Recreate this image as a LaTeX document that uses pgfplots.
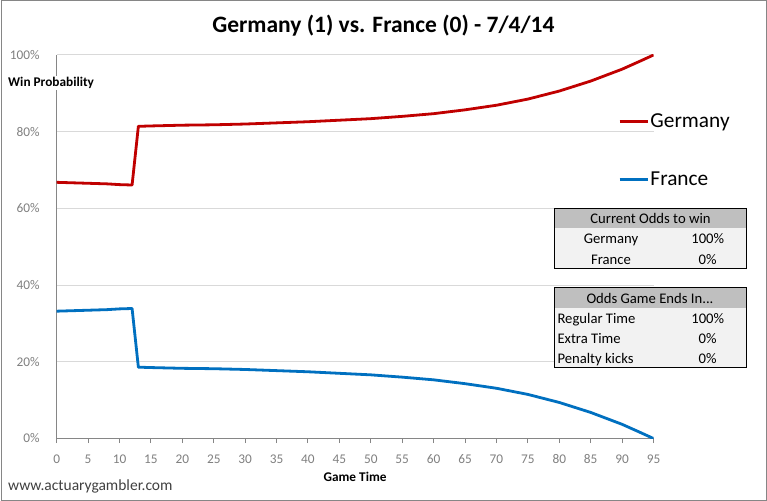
\documentclass[border=0pt]{standalone}
\usepackage{pgfplots}
\pgfplotsset{compat=1.18}
\usepackage{fontspec}
\setmainfont{Carlito}
\definecolor{gerred}{HTML}{C00000}
\definecolor{frablue}{HTML}{0070C0}
\definecolor{axgray}{HTML}{868686}
\definecolor{gridgray}{HTML}{D9D9D9}
\definecolor{ticktext}{HTML}{808080}
\definecolor{hdrgray}{HTML}{BFBFBF}
\definecolor{bodygray}{HTML}{F2F2F2}
\definecolor{urlgray}{HTML}{404040}
\newcommand{\tabfont}{\fontsize{14.67bp}{17bp}\selectfont}
\newcommand{\smallfont}{\fontsize{13.3bp}{16bp}\selectfont}
\begin{document}
\begin{tikzpicture}[x=1bp,y=1bp]
\useasboundingbox (0,0) rectangle (767,-501);
\fill[white] (0,0) rectangle (767,-501);
\draw[axgray,line width=1bp] (1,-1) rectangle (766,-500);
\begin{axis}[
  at={(56.7bp,-438.5bp)}, anchor=south west,
  scale only axis, width=596.8bp, height=383.5bp,
  xmin=0, xmax=95, ymin=0, ymax=100,
  axis x line*=bottom, axis y line*=left,
  axis line style={axgray, line width=1bp, -},
  xtick={0,5,...,95}, ytick={0,20,...,100},
  tick align=outside,
  xtick style={axgray, line width=1bp},
  major tick length=4.5bp,
  ytick style={draw=none},
  ymajorgrids, grid style={gridgray, line width=1bp},
  yticklabel={\pgfmathprintnumber{\tick}\%},
  ticklabel style={font=\smallfont, text=ticktext},
  /pgf/number format/assume math mode=true,
  yticklabel style={xshift=-9bp},
  xticklabel style={yshift=-8bp},
  xlabel={Game Time},
  xlabel style={font=\bfseries\smallfont, at={(axis description cs:0.5,-0.099)}, anchor=center},
  legend style={at={(axis description cs:0.9405,0.851)}, anchor=north west,
    draw=none, fill=none, inner sep=0pt, row sep=40bp,
    font=\fontsize{21.3bp}{24bp}\selectfont,
    cells={anchor=west}, nodes={inner sep=1.5bp}},
  legend image code/.code={\draw[#1] (0bp,0bp) -- (28bp,0bp);},
  every axis plot/.append style={line width=2.8bp, line join=round},
]
\addplot[gerred] coordinates {
(0,66.8) (2,66.7) (4,66.6) (6,66.5) (8,66.4) (10,66.2) (12,66.1)
(13,81.4) (15,81.5) (20,81.7) (25,81.8) (30,82.0) (35,82.3) (40,82.6)
(45,83.0) (50,83.4) (55,84.0) (60,84.7) (65,85.7) (70,86.9) (75,88.5)
(80,90.6) (85,93.2) (90,96.3) (93,98.5) (95,100)};
\addlegendentry{Germany}
\addplot[frablue] coordinates {
(0,33.2) (2,33.3) (4,33.4) (6,33.5) (8,33.6) (10,33.8) (12,33.9)
(13,18.6) (15,18.5) (20,18.3) (25,18.2) (30,18.0) (35,17.7) (40,17.4)
(45,17.0) (50,16.6) (55,16.0) (60,15.3) (65,14.3) (70,13.1) (75,11.5)
(80,9.4) (85,6.8) (90,3.7) (93,1.5) (95,0)};
\addlegendentry{France}
\end{axis}
\node[anchor=base, font=\bfseries\fontsize{23.5bp}{26bp}\selectfont] at (383.4,-32.3) {Germany (1) vs. France (0) - 7/4/14};
\node[anchor=west, fill=white, inner sep=1bp, font=\bfseries\smallfont] at (7,-83) {Win Probability};
\node[anchor=west, inner sep=0pt, font=\fontsize{15.5bp}{18bp}\selectfont, text=urlgray] at (8,-486.7) {www.actuarygambler.com};
% table 1
\fill[bodygray] (554.5,-208.5) rectangle (746,-268.5);
\fill[hdrgray] (554.5,-208.5) rectangle (746,-228.5);
\draw[black, line width=1bp] (554.5,-208.5) rectangle (746,-268.5);
\begin{scope}[every node/.style={font=\tabfont, inner sep=0pt, anchor=base}]
\node at (650.5,-223.7) {Current Odds to win};
\node at (611,-244) {Germany};
\node at (707.7,-244) {100\%};
\node at (611,-264.7) {France};
\node at (707.7,-264.7) {0\%};
\end{scope}
% table 2
\fill[bodygray] (554.5,-287.5) rectangle (746,-367.5);
\fill[hdrgray] (554.5,-287.5) rectangle (746,-307.5);
\draw[black, line width=1bp] (554.5,-287.5) rectangle (746,-367.5);
\begin{scope}[every node/.style={font=\tabfont, inner sep=0pt, anchor=base}]
\node at (650,-304) {Odds Game Ends In...};
\node[anchor=base west] at (557.3,-323) {Regular Time};
\node at (707.7,-323) {100\%};
\node[anchor=base west] at (557.3,-343) {Extra Time};
\node at (707.7,-343) {0\%};
\node[anchor=base west] at (557.3,-363) {Penalty kicks};
\node at (707.7,-363) {0\%};
\end{scope}
\end{tikzpicture}
\end{document}
